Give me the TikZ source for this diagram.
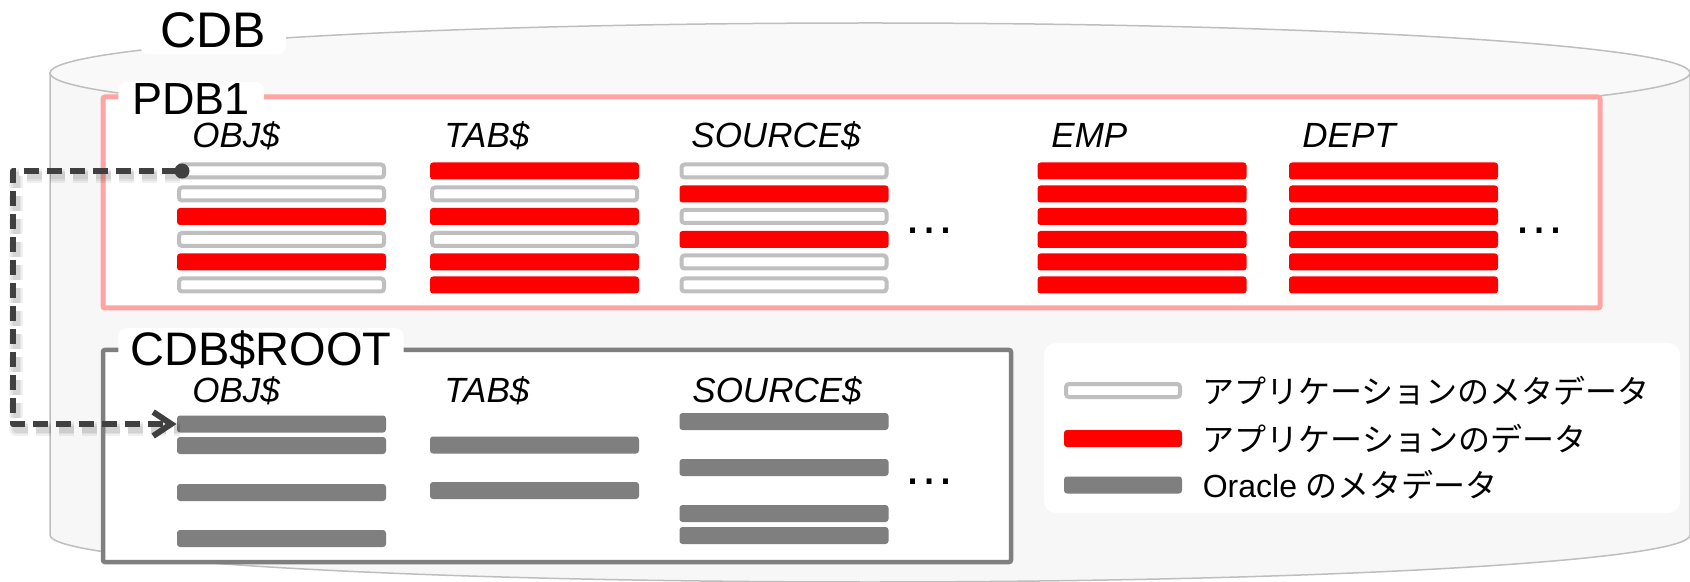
\documentclass[tikz,border=0pt]{standalone}
\usepackage{fontspec}
\setmainfont{Liberation Sans}
\newfontfamily\jpfont{Noto Sans CJK JP}
\usepackage{xcolor}
\usetikzlibrary{arrows.meta,positioning}
\definecolor{appred}  {HTML}{FF0000}
\definecolor{metagray}{HTML}{BFBFBF}
\definecolor{sysgray} {HTML}{7F7F7F}
\definecolor{pdbpink} {HTML}{FFA3A3}
\definecolor{cylline} {HTML}{BEBEBE}
\definecolor{cylbody} {HTML}{F7F7F7}
\definecolor{cyltop}  {HTML}{F9F9F9}
\definecolor{linkgray}{HTML}{404040}
\tikzset{
  bar/.style={rectangle,rounded corners=1.5pt,inner sep=0pt,minimum width=104.5pt,minimum height=8.5pt},
  metabar/.style={bar,draw=metagray,line width=2pt,fill=white,minimum width=102.5pt,minimum height=6.5pt},
  databar/.style={bar,fill=appred},
  sysbar/.style={bar,fill=sysgray},
  boxlabel/.style={anchor=base west,fill=white,inner ysep=1pt,rounded corners=4pt},
  tablabel/.style={anchor=base west,inner sep=0pt,font=\fontsize{17.5pt}{20pt}\selectfont\itshape},
  more/.style={anchor=base west,inner sep=0pt,font=\fontsize{26pt}{30pt}\selectfont},
  legtext/.style={inner sep=0pt,font=\fontsize{16pt}{19pt}\selectfont},
  link/.style={linkgray,line width=3pt,dash pattern=on 7.5pt off 4pt,line join=round},
  linkshadow/.style={black,line width=#1,opacity=0.06,dash pattern=on 7.5pt off 4pt,line join=round},
}

\begin{document}
\begin{tikzpicture}[x=0.5pt,y=-0.5pt]
\useasboundingbox (0,0) rectangle (1690,582);
% cylinder
\filldraw[fill=cylbody,draw=cylline,line width=0.75pt] (50,73) -- (50,535) arc[start angle=180,end angle=0,x radius=820,y radius=47] -- (1690,73) -- cycle;
\filldraw[fill=cyltop,draw=cylline,line width=0.75pt] (870,73) ellipse[x radius=820,y radius=50];
\node[boxlabel,inner xsep=10pt,inner ysep=3pt,font=\fontsize{25pt}{30pt}\selectfont] (cdb) at (140,48) {CDB};
% containers
\draw[pdbpink,fill=white,line width=2.5pt,rounded corners=1pt] (103,97) rectangle (1600,308);
\draw[sysgray,fill=white,line width=2.25pt,rounded corners=1pt] (103,350) rectangle (1011,562);
\fill[white,rounded corners=6pt] (1044,343) rectangle (1680,513);
\node[boxlabel,inner xsep=7pt,font=\fontsize{22.5pt}{26pt}\selectfont] (pdb) at (118,115) {PDB1};
\node[boxlabel,inner xsep=6pt,font=\fontsize{23.5pt}{27pt}\selectfont] (root) at (118,365) {CDB\$ROOT};
% PDB1 tables
\node[tablabel] (pobjlbl) at (192,148) {OBJ\$};
\node[tablabel] (ptablbl) at (444,148) {TAB\$};
\node[tablabel] (psrclbl) at (691,148) {SOURCE\$};
\node[tablabel] (pemplbl) at (1051,148) {EMP};
\node[tablabel] (pdeptlbl) at (1302,148) {DEPT};
\node[metabar] (pobj1) at (281.5,171) {};
\node[metabar] (pobj2) at (281.5,194) {};
\node[databar] (pobj3) at (281.5,216.5) {};
\node[metabar] (pobj4) at (281.5,239.5) {};
\node[databar] (pobj5) at (281.5,262) {};
\node[metabar] (pobj6) at (281.5,285) {};
\node[databar] (ptab1) at (534.5,171) {};
\node[metabar] (ptab2) at (534.5,194) {};
\node[databar] (ptab3) at (534.5,216.5) {};
\node[metabar] (ptab4) at (534.5,239.5) {};
\node[databar] (ptab5) at (534.5,262) {};
\node[databar] (ptab6) at (534.5,285) {};
\node[metabar] (psrc1) at (784,171) {};
\node[databar] (psrc2) at (784,194) {};
\node[metabar] (psrc3) at (784,216.5) {};
\node[databar] (psrc4) at (784,239.5) {};
\node[metabar] (psrc5) at (784,262) {};
\node[metabar] (psrc6) at (784,285) {};
\node[databar] (pemp1) at (1142,171) {};
\node[databar] (pemp2) at (1142,194) {};
\node[databar] (pemp3) at (1142,216.5) {};
\node[databar] (pemp4) at (1142,239.5) {};
\node[databar] (pemp5) at (1142,262) {};
\node[databar] (pemp6) at (1142,285) {};
\node[databar] (pdept1) at (1393.5,171) {};
\node[databar] (pdept2) at (1393.5,194) {};
\node[databar] (pdept3) at (1393.5,216.5) {};
\node[databar] (pdept4) at (1393.5,239.5) {};
\node[databar] (pdept5) at (1393.5,262) {};
\node[databar] (pdept6) at (1393.5,285) {};
\node[more] (pmore1) at (903,234) {…};
\node[more] (pmore2) at (1513,234) {…};
% CDB$ROOT tables
\node[tablabel] (robjlbl) at (192,402) {OBJ\$};
\node[tablabel] (rtablbl) at (444,402) {TAB\$};
\node[tablabel] (rsrclbl) at (692,402) {SOURCE\$};
\node[sysbar] (robj1) at (281.5,424) {};
\node[sysbar] (robj2) at (281.5,445.5) {};
\node[sysbar] (robj4) at (281.5,492.5) {};
\node[sysbar] (robj6) at (281.5,538.5) {};
\node[sysbar] (rtab2) at (534.5,445) {};
\node[sysbar] (rtab4) at (534.5,490.5) {};
\node[sysbar] (rsrc1) at (784,421.5) {};
\node[sysbar] (rsrc3) at (784,467.5) {};
\node[sysbar] (rsrc5) at (784,513.5) {};
\node[sysbar] (rsrc6) at (784,535.5) {};
\node[more] (rmore) at (903,484) {…};
% legend
\node[metabar,minimum width=57pt] (legmeta) at (1123,390.5) {};
\node[databar,minimum width=59pt] (legdata) at (1123,438.5) {};
\node[sysbar,minimum width=59pt] (legsys) at (1123,485) {};
\node[legtext,right=10pt of legmeta] (legmetatxt) {\jpfont アプリケーションのメタデータ};
\node[legtext,right=10pt of legdata] (legdatatxt) {\jpfont アプリケーションのデータ};
\node[legtext,right=10pt of legsys] (legsystxt) {Oracle {\jpfont のメタデータ}};
% dictionary link, soft shadow first
\coordinate (jog) at (13,0);
\draw[linkshadow=7pt,transform canvas={shift={(1.5pt,-2.5pt)}}] (pobj1.west) -- (pobj1.west -| jog) |- (robj1.west);
\draw[linkshadow=5pt,transform canvas={shift={(1.5pt,-2.5pt)}}] (pobj1.west) -- (pobj1.west -| jog) |- (robj1.west);
\draw[linkshadow=3.5pt,transform canvas={shift={(1.5pt,-2.5pt)}}] (pobj1.west) -- (pobj1.west -| jog) |- (robj1.west);
\draw[link,-{Straight Barb[length=9pt,width=12pt]}] (pobj1.west) -- (pobj1.west -| jog) |- (robj1.west);
\fill[linkgray] ([xshift=2.5pt]pobj1.west) circle[radius=3.75pt];
\end{tikzpicture}
\end{document}
